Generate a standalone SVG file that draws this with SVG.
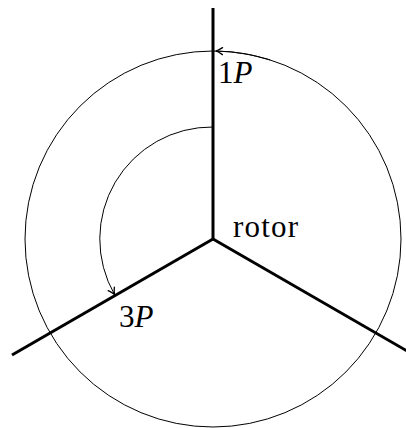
<svg xmlns="http://www.w3.org/2000/svg" width="406" height="428" viewBox="0 0 406 428">
  <style>
    .thick { stroke: #000; stroke-width: 3; fill: none; stroke-linecap: butt; }
    .thin { stroke: #000; stroke-width: 1; fill: none; }
    .lbl { font-family: "Liberation Serif", "Times New Roman", serif; font-size: 31px; fill: #000; }
    .it { font-style: italic; }
  </style>
  <defs>
    <marker id="arr" markerUnits="userSpaceOnUse" markerWidth="12" markerHeight="12" viewBox="-8 -6 10 12" refX="0" refY="0" orient="auto">
      <path d="M -6.5 -3.5 Q -2.5 -0.8 0 0 Q -2.5 0.8 -6.5 3.5" fill="none" stroke="#000" stroke-width="1.3" stroke-linecap="round" stroke-linejoin="round"/>
    </marker>
  </defs>
  <rect width="406" height="428" fill="#fff"/>

  <g id="outer-circle">
    <circle class="thin" cx="213" cy="239" r="188"/>
    <path class="thin" d="M 270 60 A 188 188 0 0 0 216 51" marker-end="url(#arr)"/>
  </g>

  <g id="connectors">
    <line class="thick" x1="213" y1="239" x2="213" y2="8"/>
    <line class="thick" x1="213" y1="239" x2="12" y2="355"/>
    <line class="thick" x1="213" y1="239" x2="414" y2="355"/>
    <path id="inner-arc" class="thin" d="M 213 127 A 112 112 0 0 0 114.5 294.5" marker-end="url(#arr)"/>
  </g>

  <g id="label-1P">
    <text class="lbl" x="218" y="83">1<tspan class="it">P</tspan></text>
  </g>
  <g id="label-3P">
    <text class="lbl" x="119" y="327">3<tspan class="it">P</tspan></text>
  </g>
  <g id="rotor">
    <text class="lbl" x="233" y="237" textLength="65" lengthAdjust="spacing">rotor</text>
  </g>
</svg>
